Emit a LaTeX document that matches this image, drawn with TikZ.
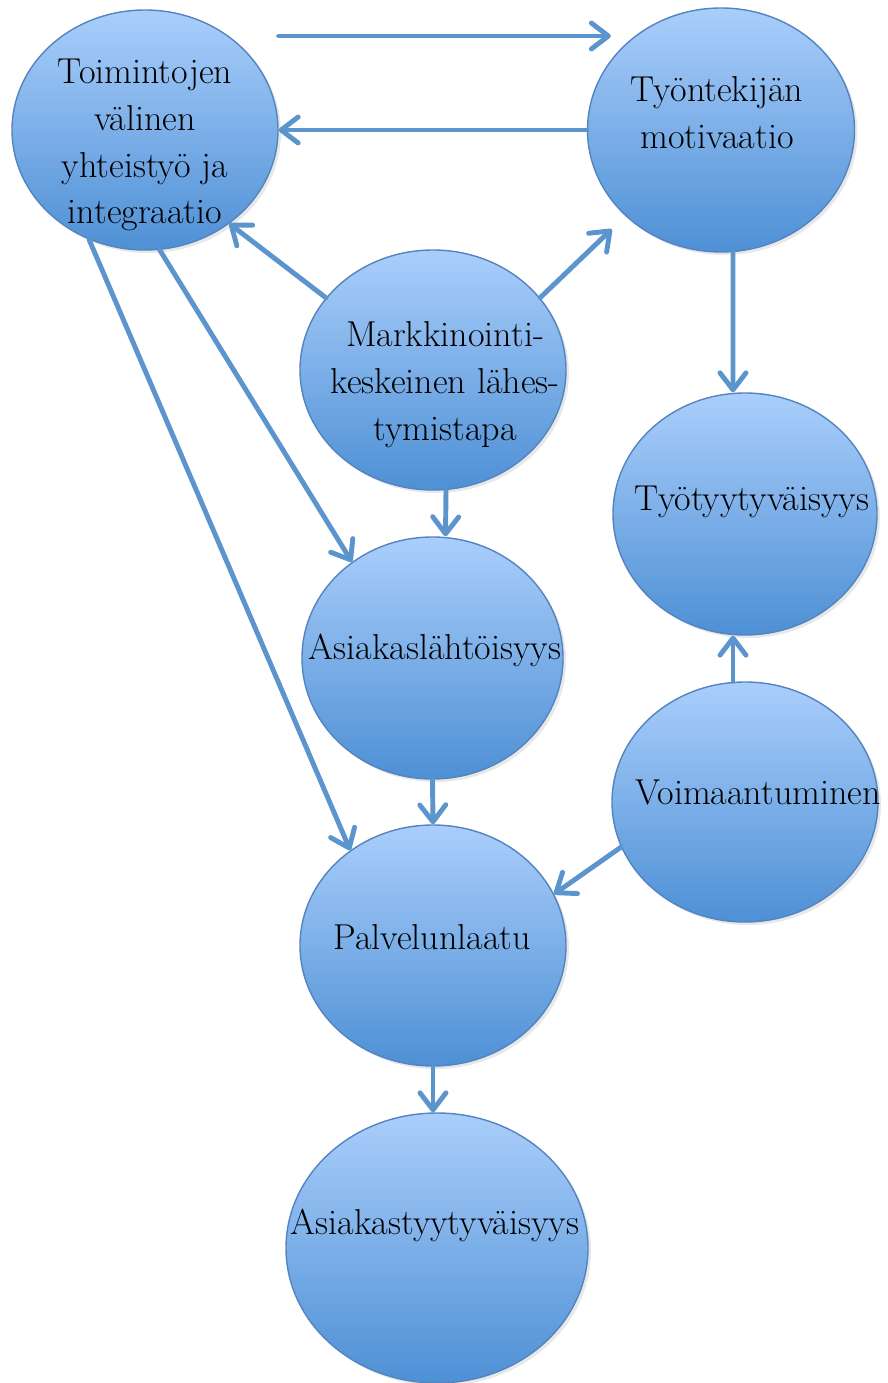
\documentclass[tikz,border=0pt]{standalone}
\usetikzlibrary{arrows.meta,shadows,shapes.geometric}

\definecolor{bubbletop}{RGB}{170,206,251}
\definecolor{bubblebot}{RGB}{78,144,213}
\definecolor{bubbleline}{RGB}{84,132,192}
\definecolor{linkblue}{RGB}{92,148,206}

\tikzset{
	bubble/.style = {ellipse, draw = bubbleline, line width = 0.8pt, inner sep = 0pt,
		top color = bubbletop, bottom color = bubblebot,
		drop shadow = {opacity = 0.18, shadow xshift = 0.06cm, shadow yshift = -0.06cm}},
	txt/.style = {align = center, inner sep = 0pt, font = \fontsize{20.5}{26.7}\selectfont},
	link/.style = {draw = linkblue, line width = 2.8pt, line cap = round,
		-{Straight Barb[round, length = 3.4mm, width = 5.2mm]}}
}

\begin{document}
\begin{tikzpicture}
				\useasboundingbox (0,0) rectangle (17.76,-27.66);
				% ellipses
				\node[bubble, minimum width = 5.32cm, minimum height = 4.80cm] (toim) at (2.90,-2.60) {};
				\node[bubble, minimum width = 5.34cm, minimum height = 4.88cm] (tyon) at (14.42,-2.60) {};
				\node[bubble, minimum width = 5.32cm, minimum height = 4.80cm] (mark) at (8.66,-7.40) {};
				\node[bubble, minimum width = 5.28cm, minimum height = 4.84cm] (tyot) at (14.90,-10.28) {};
				\node[bubble, minimum width = 5.22cm, minimum height = 4.84cm] (asla) at (8.65,-13.16) {};
				\node[bubble, minimum width = 5.32cm, minimum height = 4.80cm] (voim) at (14.90,-16.04) {};
				\node[bubble, minimum width = 5.32cm, minimum height = 4.82cm] (palv) at (8.66,-18.91) {};
				\node[bubble, minimum width = 6.04cm, minimum height = 5.40cm] (asty) at (8.74,-24.96) {};
				% texts
				\node[txt] (toim-t) at (2.90,-2.90) {Toimintojen\\välinen\\yhteistyö ja\\integraatio};
				\node[txt] (tyon-t) at (14.34,-2.26) {Työntekijän\\motivaatio};
				\node[txt] (mark-t) at (8.90,-7.70) {Markkinointi-\\keskeinen lähes-\\tymistapa};
				\node[txt] (tyot-t) at (15.04,-10.04) {Työtyytyväisyys};
				\node[txt] (asla-t) at (8.70,-13.00) {Asiakaslähtöisyys};
				\node[txt] (voim-t) at (15.16,-15.84) {Voimaantuminen};
				\node[txt] (palv-t) at (8.64,-18.74) {Palvelunlaatu};
				\node[txt] (asty-t) at (8.70,-24.50) {Asiakastyytyväisyys};
				% arrows
				\draw[link] ([yshift=1.88cm]toim.east) -- ([xshift=0.48cm, yshift=1.88cm]tyon.west);
				\draw[link] (tyon.west) -- (toim.east);
				\draw[link] (mark.146) -- (toim.-48);
				\draw[link, shorten >= 0.38cm] (mark.34) -- (tyon.222);
				\draw[link] ([xshift=0.24cm]tyon.south) -- ([xshift=-0.24cm]tyot.north);
				\draw[link] (toim.-83) -- (asla.130);
				\draw[link] ([xshift=0.26cm]mark.south) -- ([xshift=0.26cm]asla.north);
				\draw[link] (toim.-117) -- (palv.131);
				\draw[link] (asla.south) -- (palv.north);
				\draw[link] ([xshift=-0.24cm]voim.north) -- ([xshift=-0.24cm]tyot.south);
				\draw[link] (voim.200) -- (palv.23);
				\draw[link] (palv.south) -- (palv.south |- asty.north);
\end{tikzpicture}
\end{document}
